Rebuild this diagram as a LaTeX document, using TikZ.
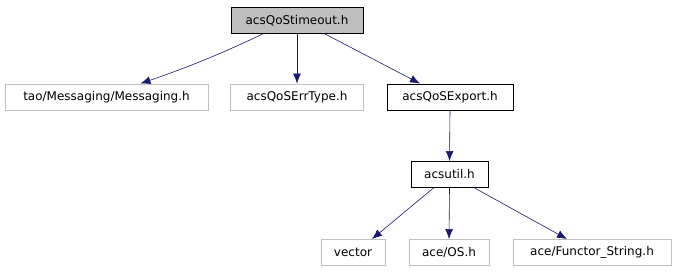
\documentclass[tikz,border=0pt]{standalone}
\usepackage{fontspec}
\setmainfont{DejaVu Sans}
\usetikzlibrary{arrows.meta}
\definecolor{edgec}{HTML}{191970}
\definecolor{grayb}{HTML}{BFBFBF}
\tikzset{
  box/.style={draw=grayb, line width=0.9pt, inner sep=0pt, font=\fontsize{12}{14}\selectfont, minimum height=26pt},
  mainbox/.style={box, draw=black, fill=grayb},
  blackbox/.style={box, draw=black},
  edge/.style={draw=edgec, line width=0.6pt, -{Latex[length=10pt,width=8pt]}}
}
\begin{document}
\begin{tikzpicture}[x=1pt,y=-1pt]
\useasboundingbox (0,0) rectangle (676,272);
\node[mainbox, minimum width=132pt] (top) at (297,20.5) {acsQoStimeout.h};
\node[box, minimum width=203pt] (msg) at (106.5,97) {tao/Messaging/Messaging.h};
\node[box, minimum width=133pt] (err) at (297,97) {acsQoSErrType.h};
\node[blackbox, minimum width=126pt] (exp) at (450,97) {acsQoSExport.h};
\node[blackbox, minimum width=77pt] (util) at (449.5,174.5) {acsutil.h};
\node[box, minimum width=64pt] (vec) at (353,252.5) {vector};
\node[box, minimum width=80pt] (os) at (449,252.5) {ace/OS.h};
\node[box, minimum width=158pt] (fun) at (592,252.5) {ace/Functor\_String.h};
\draw[edge] ([xshift=-34pt]top.south) to[bend left=3] ([xshift=34pt]msg.north);
\draw[edge] (top.south) -- (err.north);
\draw[edge] ([xshift=28pt]top.south) -- ([xshift=-30pt]exp.north);
\draw[edge] (exp.south) -- (util.north);
\draw[edge] ([xshift=-16pt]util.south) -- ([xshift=19pt]vec.north);
\draw[edge] (util.south) -- (os.north);
\draw[edge] ([xshift=25pt]util.south) -- ([xshift=-25pt]fun.north);
\end{tikzpicture}
\end{document}
